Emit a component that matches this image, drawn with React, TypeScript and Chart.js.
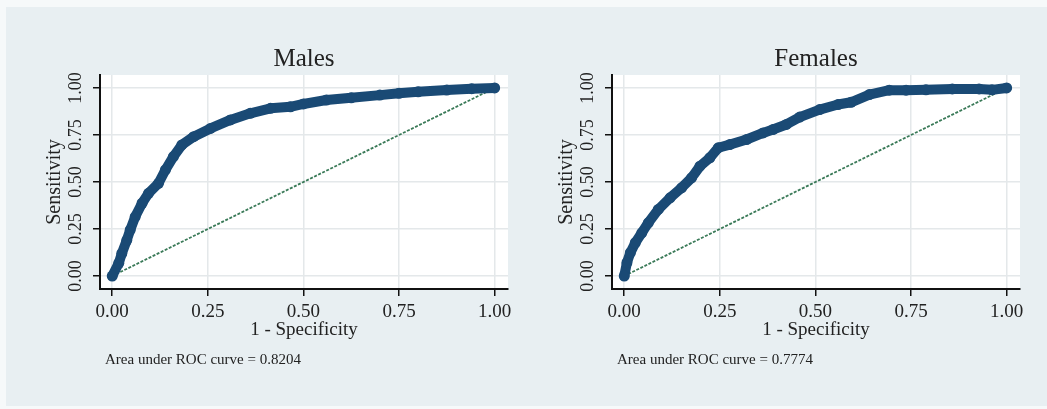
import React, { useEffect, useRef } from "react";
import { Chart, registerables } from "chart.js";

Chart.register(...registerables);

// ---------- data ----------
const tickValues = [0, 0.25, 0.5, 0.75, 1];
const tickLabels = ["0.00", "0.25", "0.50", "0.75", "1.00"];

const malesFpr = [0, 0.017, 0.025, 0.038, 0.047, 0.06, 0.078, 0.095, 0.121, 0.139, 0.16, 0.182, 0.213, 0.257, 0.309, 0.361, 0.414, 0.466, 0.5, 0.56, 0.625, 0.7, 0.75, 0.8, 0.875, 0.94, 1.0];
const malesTpr = [0, 0.068, 0.12, 0.19, 0.245, 0.315, 0.387, 0.44, 0.493, 0.564, 0.635, 0.697, 0.741, 0.785, 0.83, 0.865, 0.892, 0.9, 0.915, 0.936, 0.948, 0.962, 0.972, 0.98, 0.989, 0.996, 1.0];

const femalesFpr = [0, 0.007, 0.016, 0.029, 0.046, 0.063, 0.089, 0.12, 0.15, 0.176, 0.198, 0.224, 0.246, 0.276, 0.32, 0.363, 0.389, 0.424, 0.459, 0.511, 0.559, 0.593, 0.641, 0.693, 0.737, 0.789, 0.858, 0.928, 0.962, 1.0];
const femalesTpr = [0, 0.071, 0.124, 0.177, 0.23, 0.283, 0.354, 0.416, 0.469, 0.522, 0.584, 0.629, 0.682, 0.699, 0.726, 0.761, 0.779, 0.806, 0.845, 0.885, 0.912, 0.924, 0.965, 0.988, 0.988, 0.99, 0.995, 0.995, 0.99, 1.0];

const refX = [0, 1];
const refY = [0, 1];

const malesTitle = "Males";
const femalesTitle = "Females";
const malesAuc = "Area under ROC curve = 0.8204";
const femalesAuc = "Area under ROC curve = 0.7774";
const xTitle = "1 - Specificity";
const yTitle = "Sensitivity";

// ---------- styling ----------
const NAVY = "#1a4a75";
const REF = "#3a7a58";
const FONT = "'Liberation Serif', 'Times New Roman', serif";
const TEXT = "#222222";

type PanelProps = {
  left: number;
  width: number;
  axisX: number;
  plotRight: number;
  title: string;
  auc: string;
  fpr: number[];
  tpr: number[];
};

function Panel({ left, width, axisX, plotRight, title, auc, fpr, tpr }: PanelProps) {
  const ref = useRef<HTMLCanvasElement | null>(null);

  useEffect(() => {
    const canvas = ref.current;
    if (!canvas) return;
    const H = 409;
    const textPlugin = {
      id: "panelText",
      beforeDraw(chart: any) {
        const { ctx, chartArea } = chart;
        ctx.save();
        ctx.fillStyle = "#ffffff";
        ctx.fillRect(chartArea.left, chartArea.top, chartArea.right - chartArea.left, chartArea.bottom - chartArea.top);
        ctx.restore();
      },
      afterDraw(chart: any) {
        const { ctx, chartArea, scales } = chart;
        const cx = (chartArea.left + chartArea.right) / 2;
        ctx.save();
        ctx.fillStyle = TEXT;
        ctx.font = `25px ${FONT}`;
        ctx.textAlign = "center";
        ctx.textBaseline = "middle";
        ctx.fillText(title, cx, 59);
        ctx.font = `19px ${FONT}`;
        ctx.fillText(xTitle, cx, 330);
        ctx.font = `15px ${FONT}`;
        ctx.textAlign = "left";
        ctx.textBaseline = "alphabetic";
        ctx.fillText(auc, chartArea.left + 5, 364);
        ctx.font = `18px ${FONT}`;
        ctx.textAlign = "center";
        ctx.textBaseline = "middle";
        tickValues.forEach((v, i) => {
          const y = scales.y.getPixelForValue(v);
          ctx.save();
          ctx.translate(chartArea.left - 24, y);
          ctx.rotate(-Math.PI / 2);
          ctx.fillText(tickLabels[i], 0, 0);
          ctx.restore();
        });
        ctx.font = `20px ${FONT}`;
        ctx.save();
        ctx.translate(chartArea.left - 45, (chartArea.top + chartArea.bottom) / 2);
        ctx.rotate(-Math.PI / 2);
        ctx.fillText(yTitle, 0, 0);
        ctx.restore();
        ctx.restore();
      },
    };

    const chart = new Chart(canvas, {
      type: "scatter",
      data: {
        datasets: [
          {
            data: fpr.map((x, i) => ({ x, y: tpr[i] })),
            showLine: true,
            borderColor: NAVY,
            backgroundColor: NAVY,
            borderWidth: 10,
            borderJoinStyle: "round",
            borderCapStyle: "round",
            pointRadius: 5.5,
            pointBorderWidth: 0,
            pointBackgroundColor: NAVY,
            order: 1,
          },
          {
            data: refX.map((x, i) => ({ x, y: refY[i] })),
            showLine: true,
            borderColor: REF,
            borderWidth: 1.8,
            borderDash: [3, 1.5],
            pointRadius: 0,
            order: 2,
          },
        ],
      } as any,
      options: {
        responsive: false,
        animation: false,
        devicePixelRatio: 1,
        layout: { padding: { top: 75, right: width - plotRight, left: 0, bottom: 0 } },
        plugins: {
          legend: { display: false },
          tooltip: { enabled: false },
          title: { display: false },
        },
        scales: {
          x: {
            type: "linear",
            min: -0.032,
            max: 1.035,
            afterBuildTicks: (s: any) => {
              s.ticks = tickValues.map((v) => ({ value: v }));
            },
            afterFit: (s: any) => {
              s.height = H - 289;
            },
            ticks: {
              callback: (_v: any, i: number) => tickLabels[i],
              font: { family: FONT, size: 19 },
              color: TEXT,
              padding: 5,
              maxRotation: 0,
              minRotation: 0,
            },
            grid: { color: "#e4e8ea", lineWidth: 1.5, tickColor: "#111", tickLength: 7 },
            border: { color: "#111", width: 2 },
          },
          y: {
            type: "linear",
            min: -0.069,
            max: 1.069,
            afterBuildTicks: (s: any) => {
              s.ticks = tickValues.map((v) => ({ value: v }));
            },
            afterFit: (s: any) => {
              s.width = axisX;
            },
            ticks: { display: false },
            grid: { color: "#e4e8ea", lineWidth: 1.5, tickColor: "#111", tickLength: 7 },
            border: { color: "#111", width: 2 },
          },
        },
      } as any,
      plugins: [textPlugin],
    });
    return () => chart.destroy();
  }, []);

  return (
    <canvas
      ref={ref}
      width={width}
      height={409}
      style={{ position: "absolute", left, top: 0, width, height: 409 }}
    />
  );
}

export default function App() {
  return (
    <div style={{ position: "fixed", left: 0, top: 0, width: 1047, height: 409, background: "#f6f9fa", overflow: "hidden" }}>
      <div style={{ position: "absolute", left: 6, top: 7, right: 0, bottom: 3, background: "#e8eff2" }} />
      <Panel left={0} width={520} axisX={100} plotRight={508} title={malesTitle} auc={malesAuc} fpr={malesFpr} tpr={malesTpr} />
      <Panel left={520} width={527} axisX={92} plotRight={500} title={femalesTitle} auc={femalesAuc} fpr={femalesFpr} tpr={femalesTpr} />
    </div>
  );
}
